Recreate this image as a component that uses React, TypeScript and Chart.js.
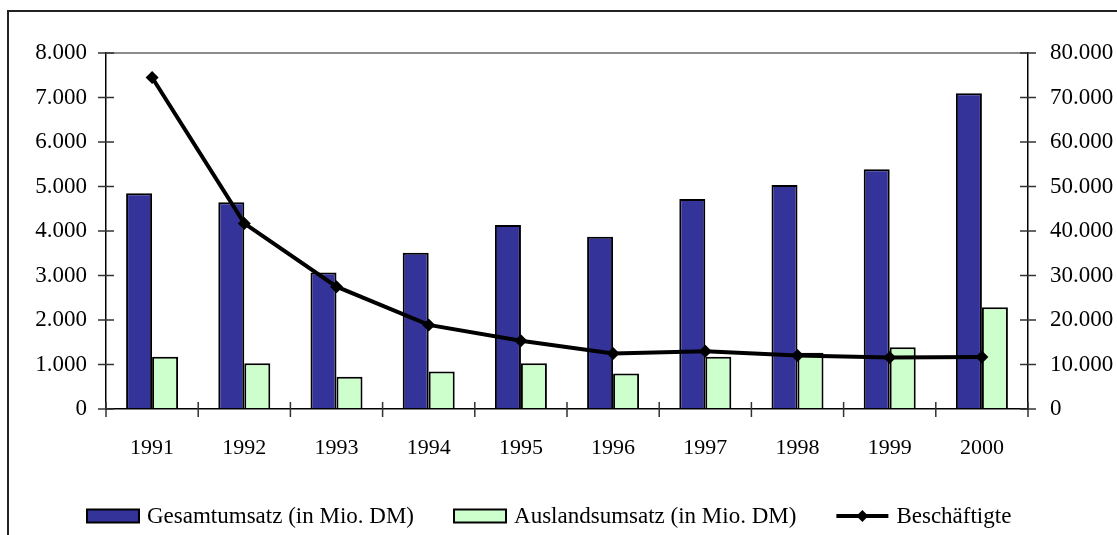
import React, { useEffect, useRef } from "react";
import { Chart, registerables } from "chart.js";

Chart.register(...registerables);

const years = ["1991", "1992", "1993", "1994", "1995", "1996", "1997", "1998", "1999", "2000"];
const gesamtumsatz = [4850, 4645, 3065, 3510, 4135, 3870, 4720, 5035, 5385, 7095];
const auslandsumsatz = [1175, 1030, 725, 840, 1030, 800, 1175, 1265, 1385, 2285];
const beschaeftigte = [74500, 41700, 27500, 18900, 15350, 12500, 13000, 12000, 11600, 11700];
const seriesLabels = ["Gesamtumsatz (in Mio. DM)", "Auslandsumsatz (in Mio. DM)", "Beschäftigte"];
const leftAxisMax = 8000;
const leftAxisStep = 1000;
const rightAxisMax = 80000;
const rightAxisStep = 10000;

const FONT = "'Liberation Serif', 'Times New Roman', serif";

const fmt = (v: number | string) => String(v).replace(/\B(?=(\d{3})+(?!\d))/g, ".");

const crossTicks = {
  id: "crossTicks",
  afterDraw(chart: any) {
    const { ctx, chartArea } = chart;
    const x = chart.scales.x;
    const y = chart.scales.y;
    const y1 = chart.scales.y1;
    ctx.save();
    ctx.strokeStyle = "#333";
    ctx.lineWidth = 1.5;
    ctx.beginPath();
    for (let i = 0; i <= x.ticks.length; i++) {
      const px = x.getPixelForValue(i - 0.5);
      ctx.moveTo(px, chartArea.bottom - 7);
      ctx.lineTo(px, chartArea.bottom + 8);
    }
    y.ticks.forEach((_t: any, i: number) => {
      const py = y.getPixelForTick(i);
      ctx.moveTo(chartArea.left - 8, py);
      ctx.lineTo(chartArea.left + 8, py);
    });
    y1.ticks.forEach((_t: any, i: number) => {
      const py = y1.getPixelForTick(i);
      ctx.moveTo(chartArea.right - 8, py);
      ctx.lineTo(chartArea.right + 8, py);
    });
    ctx.stroke();
    ctx.restore();
  },
};

const customLegend = {
  id: "customLegend",
  afterDraw(chart: any) {
    const ctx = chart.ctx;
    const cy = 516;
    const symW = 52;
    const gap = 40;
    let x = 87;
    ctx.save();
    ctx.font = `23px ${FONT}`;
    ctx.textBaseline = "middle";
    ctx.textAlign = "left";
    chart.data.datasets.forEach((ds: any) => {
      if (ds.type === "line") {
        ctx.strokeStyle = ds.borderColor;
        ctx.lineWidth = 4;
        ctx.beginPath();
        ctx.moveTo(x, cy);
        ctx.lineTo(x + symW, cy);
        ctx.stroke();
        const r = 6;
        const cx = x + symW / 2;
        ctx.fillStyle = ds.pointBackgroundColor;
        ctx.beginPath();
        ctx.moveTo(cx, cy - r);
        ctx.lineTo(cx + r, cy);
        ctx.lineTo(cx, cy + r);
        ctx.lineTo(cx - r, cy);
        ctx.closePath();
        ctx.fill();
      } else {
        ctx.fillStyle = ds.backgroundColor;
        ctx.fillRect(x, cy - 6.5, symW, 13);
        ctx.strokeStyle = "#000";
        ctx.lineWidth = 2;
        ctx.strokeRect(x, cy - 6.5, symW, 13);
      }
      ctx.fillStyle = "#000";
      ctx.fillText(ds.label, x + symW + 8, cy + 1);
      const w = ctx.measureText(ds.label).width;
      x += symW + 8 + w + gap;
    });
    ctx.restore();
  },
};

export default function App() {
  const ref = useRef<HTMLCanvasElement>(null);

  useEffect(() => {
    if (!ref.current) return;
    Chart.defaults.font.family = FONT;
    Chart.defaults.color = "#000";
    const chart = new Chart(ref.current, {
      type: "bar",
      data: {
        labels: years,
        datasets: [
          {
            type: "bar",
            label: seriesLabels[0],
            data: gesamtumsatz,
            backgroundColor: "#333399",
            borderColor: "#000",
            borderWidth: 2,
            yAxisID: "y",
            order: 1,
            categoryPercentage: 0.564,
            barPercentage: 1,
          } as any,
          {
            type: "bar",
            label: seriesLabels[1],
            data: auslandsumsatz,
            backgroundColor: "#CCFFCC",
            borderColor: "#000",
            borderWidth: 2,
            yAxisID: "y",
            order: 1,
            categoryPercentage: 0.564,
            barPercentage: 1,
          } as any,
          {
            type: "line",
            label: seriesLabels[2],
            data: beschaeftigte,
            borderColor: "#000",
            backgroundColor: "#000",
            borderWidth: 4,
            pointStyle: "rectRot",
            pointRadius: 6.5,
            pointBackgroundColor: "#000",
            pointBorderColor: "#000",
            pointBorderWidth: 0,
            tension: 0,
            yAxisID: "y1",
            order: 0,
          } as any,
        ],
      },
      options: {
        responsive: false,
        animation: false,
        layout: { padding: { top: 53, left: 0, right: 0, bottom: 0 } },
        plugins: {
          legend: { display: false },
          tooltip: { enabled: false },
          title: { display: false },
        },
        scales: {
          x: {
            type: "category",
            offset: true,
            grid: { display: true, color: "rgba(0,0,0,0)", drawTicks: false, offset: true },
            border: { display: true, color: "#000", width: 1.5 },
            ticks: {
              color: "#000",
              font: { size: 22, family: FONT },
              padding: 26,
              maxRotation: 0,
              autoSkip: false,
            },
            afterFit: (s: any) => {
              s.height = 126;
            },
          },
          y: {
            position: "left",
            min: 0,
            max: leftAxisMax,
            ticks: {
              stepSize: leftAxisStep,
              color: "#000",
              font: { size: 23, family: FONT },
              padding: 19,
              callback: (v: any) => fmt(v),
            },
            grid: {
              drawTicks: false,
              lineWidth: 2,
              color: (c: any) => (c.tick && c.tick.value === leftAxisMax ? "#8c8c8c" : "rgba(0,0,0,0)"),
            },
            border: { display: true, color: "#000", width: 1.5 },
            afterFit: (s: any) => {
              s.width = 106;
            },
          },
          y1: {
            position: "right",
            min: 0,
            max: rightAxisMax,
            ticks: {
              stepSize: rightAxisStep,
              color: "#000",
              font: { size: 23, family: FONT },
              padding: 22,
              callback: (v: any) => fmt(v),
            },
            grid: { drawOnChartArea: false, drawTicks: false },
            border: { display: true, color: "#000", width: 1.5 },
            afterFit: (s: any) => {
              s.width = 89;
            },
          },
        },
      } as any,
      plugins: [crossTicks, customLegend],
    });
    return () => chart.destroy();
  }, []);

  return (
    <div
      style={{
        position: "fixed",
        left: 0,
        top: 0,
        width: 1117,
        height: 535,
        overflow: "hidden",
        background: "#fff",
      }}
    >
      <div
        style={{
          position: "absolute",
          left: 7,
          top: 10,
          width: 1400,
          height: 900,
          border: "2px solid #222",
          boxSizing: "border-box",
        }}
      />
      <canvas
        ref={ref}
        width={1117}
        height={535}
        style={{ position: "absolute", left: 0, top: 0, display: "block" }}
      />
    </div>
  );
}
